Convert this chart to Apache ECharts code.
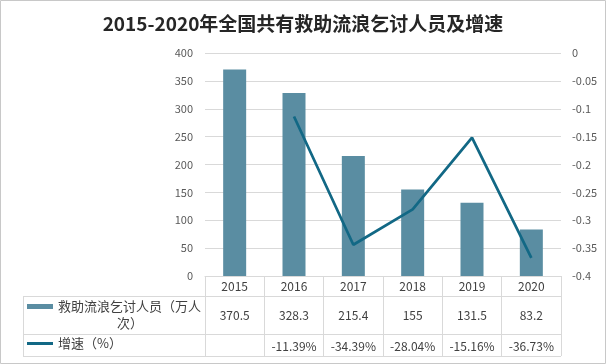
<!DOCTYPE html>
<html><head><meta charset="utf-8">
<script src="https://cdn.jsdelivr.net/npm/echarts@6/dist/echarts.min.js"></script>
<style>html,body{margin:0;padding:0;background:#fff}#c{width:606px;height:364px}</style>
</head><body><div id="c"></div>
<script>
const years = ['2015','2016','2017','2018','2019','2020'];
const people = [370.5, 328.3, 215.4, 155, 131.5, 83.2];
const growth = [null, -0.1139, -0.3439, -0.2804, -0.1516, -0.3673];
const leftTicks = {min: 0, max: 400, interval: 50};
const rightTicks = {min: -0.4, max: 0, interval: 0.05};
const barName = '救助流浪乞讨人员（万人次）';
const lineName = '增速（%）';
const titleText = '2015-2020年全国共有救助流浪乞讨人员及增速';

const FONT = 'Noto Sans CJK SC';
const grid = {left: 205, right: 45, top: 53, bottom: 88};
const growthLabels = growth.map(v => v == null ? '' : (v * 100).toFixed(2) + '%');
const peopleLabels = people.map(v => String(v));

const chart = echarts.init(document.getElementById('c'));
const lineStyle = {stroke: '#d9d9d9', lineWidth: 1};
chart.setOption({
  animation: false,
  textStyle: {fontFamily: FONT},
  title: {text: titleText, left: 'center', top: 9,
    textStyle: {fontFamily: FONT, fontSize: 19, fontWeight: 'bold', color: '#262626'}},
  grid: grid,
  legend: [
    {data: [barName], left: 27, top: 281, padding: 0, icon: 'rect', itemWidth: 26, itemHeight: 5,
     formatter: () => '{a|救助流浪乞讨人员（万人}\n{b|次）}',
     textStyle: {color: '#404040', fontSize: 13, lineHeight: 17, padding: [17, 0, 0, 0],
       rich: {a: {fontSize: 13, color: '#404040', lineHeight: 17}, b: {fontSize: 13, color: '#404040', lineHeight: 17, padding: [0, 0, 0, 59]}}}},
    {data: [lineName], left: 27, top: 337, padding: 0, icon: 'rect', itemWidth: 26, itemHeight: 3,
     textStyle: {color: '#404040', fontSize: 13}}
  ],
  xAxis: [
    {type: 'category', data: years, gridIndex: 0,
     axisLine: {lineStyle: {color: '#d9d9d9'}},
     axisTick: {show: true, length: 80, interval: 0, lineStyle: {color: '#d9d9d9'}},
     axisLabel: {margin: 4, color: '#404040', fontSize: 12, interval: 0}},
    {type: 'category', data: peopleLabels, gridIndex: 0, position: 'bottom', offset: 30,
     axisLine: {show: false}, axisTick: {show: false},
     axisLabel: {margin: 3, color: '#404040', fontSize: 12, interval: 0}},
    {type: 'category', data: growthLabels, gridIndex: 0, position: 'bottom', offset: 61,
     axisLine: {show: false}, axisTick: {show: false},
     axisLabel: {margin: 3, color: '#404040', fontSize: 12, interval: 0}}
  ],
  yAxis: [
    {type: 'value', min: leftTicks.min, max: leftTicks.max, interval: leftTicks.interval,
     axisLine: {show: false}, axisTick: {show: false},
     splitLine: {lineStyle: {color: '#d9d9d9'}},
     axisLabel: {margin: 12, color: '#595959', fontSize: 11}},
    {type: 'value', min: rightTicks.min, max: rightTicks.max, interval: rightTicks.interval,
     axisLine: {show: false}, axisTick: {show: false}, splitLine: {show: false},
     axisLabel: {margin: 11, color: '#595959', fontSize: 11,
       formatter: v => String(Math.round(v * 100) / 100)}}
  ],
  series: [
    {name: barName, type: 'bar', data: people, xAxisIndex: 0, yAxisIndex: 0,
     barWidth: 23, itemStyle: {color: '#5A8DA2'}},
    {name: lineName, type: 'line', data: growth, xAxisIndex: 0, yAxisIndex: 1,
     showSymbol: false, symbol: 'none', lineStyle: {color: '#126885', width: 2.75},
     itemStyle: {color: '#126885'}}
  ],
  graphic: [
    {type: 'line', shape: {x1: 23, y1: 296.5, x2: 561, y2: 296.5}, style: lineStyle, silent: true},
    {type: 'line', shape: {x1: 23, y1: 334.5, x2: 561, y2: 334.5}, style: lineStyle, silent: true},
    {type: 'line', shape: {x1: 23, y1: 356.5, x2: 561, y2: 356.5}, style: lineStyle, silent: true},
    {type: 'line', shape: {x1: 23.5, y1: 296, x2: 23.5, y2: 357}, style: lineStyle, silent: true},
    {type: 'rect', shape: {x: 0.5, y: 0.5, width: 605, height: 363}, style: {fill: null, stroke: '#c8c8c8', lineWidth: 1}, silent: true, z: 100}
  ]
});
</script></body></html>
